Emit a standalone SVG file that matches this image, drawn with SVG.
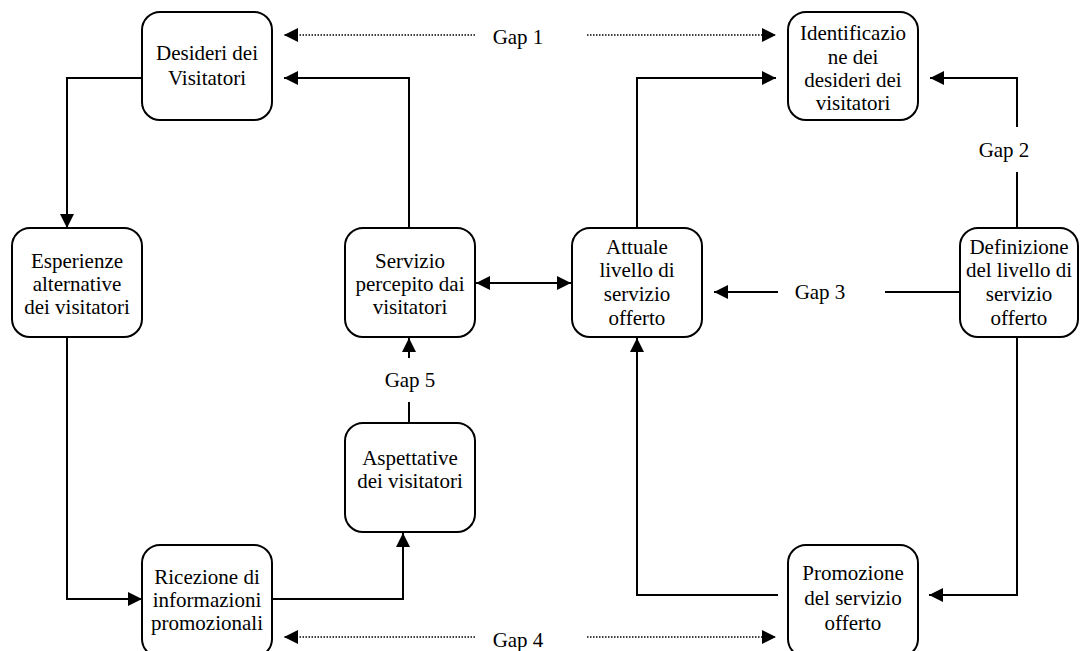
<svg xmlns="http://www.w3.org/2000/svg" width="1083" height="651" viewBox="0 0 1083 651">
  <style>
    .box { fill: #fff; stroke: #000; stroke-width: 2; }
    .lbl { font-family: "Liberation Serif", "Times New Roman", serif; font-size: 21px; fill: #000; text-anchor: middle; }
    .ln { fill: none; stroke: #000; stroke-width: 2; }
    .dot { fill: none; stroke: #000; stroke-width: 1.5; stroke-dasharray: 1.5 1.5; }
  </style>
  <defs>
    <marker id="ah" viewBox="0 0 10 10" refX="10" refY="5" markerWidth="16" markerHeight="14" markerUnits="userSpaceOnUse" orient="auto-start-reverse">
      <path d="M0,0 L10,5 L0,10 Z" fill="#000"/>
    </marker>
  </defs>
  <rect width="1083" height="651" fill="#fff"/>

  <!-- connectors -->
  <g id="connectors">
    <!-- Gap 1 -->
    <line class="dot" x1="475" y1="35" x2="284" y2="35" marker-end="url(#ah)"/>
    <line class="dot" x1="587" y1="35" x2="776" y2="35" marker-end="url(#ah)"/>
    <!-- Servizio percepito -> Desideri -->
    <polyline class="ln" points="409,228 409,78 284,78" marker-end="url(#ah)"/>
    <!-- Attuale -> Identificazione -->
    <polyline class="ln" points="637,228 637,78 776,78" marker-end="url(#ah)"/>
    <!-- Gap 2 -->
    <polyline class="ln" points="1017,127 1017,78 930,78" marker-end="url(#ah)"/>
    <line class="ln" x1="1017" y1="172" x2="1017" y2="228"/>
    <!-- Desideri -> Esperienze -->
    <polyline class="ln" points="142,78 67,78 67,228" marker-end="url(#ah)"/>
    <!-- Esperienze -> Ricezione -->
    <polyline class="ln" points="67,337 67,599 142,599" marker-end="url(#ah)"/>
    <!-- Servizio <-> Attuale -->
    <line class="ln" x1="476" y1="283" x2="571" y2="283" marker-start="url(#ah)" marker-end="url(#ah)"/>
    <!-- Gap 3 -->
    <line class="ln" x1="778" y1="292" x2="714" y2="292" marker-end="url(#ah)"/>
    <line class="ln" x1="885" y1="292" x2="960" y2="292"/>
    <!-- Gap 5 -->
    <line class="ln" x1="409" y1="358" x2="409" y2="338" marker-end="url(#ah)"/>
    <line class="ln" x1="409" y1="402" x2="409" y2="423"/>
    <!-- Ricezione -> Aspettative -->
    <polyline class="ln" points="272,599 403,599 403,533" marker-end="url(#ah)"/>
    <!-- Promozione -> Attuale -->
    <polyline class="ln" points="778,595 637,595 637,338" marker-end="url(#ah)"/>
    <!-- Definizione -> Promozione -->
    <polyline class="ln" points="1017,337 1017,595 929,595" marker-end="url(#ah)"/>
    <!-- Gap 4 -->
    <line class="dot" x1="475" y1="637" x2="284" y2="637" marker-end="url(#ah)"/>
    <line class="dot" x1="587" y1="637" x2="776" y2="637" marker-end="url(#ah)"/>
  </g>

  <!-- gap labels -->
  <g id="gap-labels">
    <text class="lbl" x="518" y="44">Gap 1</text>
    <text class="lbl" x="1004" y="157">Gap 2</text>
    <text class="lbl" x="820" y="299">Gap 3</text>
    <text class="lbl" x="410" y="387">Gap 5</text>
    <text class="lbl" x="518" y="647">Gap 4</text>
  </g>

  <g id="desideri">
    <rect class="box" x="142" y="12" width="130" height="108" rx="18"/>
    <text class="lbl" x="207" y="60">Desideri dei</text>
    <text class="lbl" x="207" y="85">Visitatori</text>
  </g>

  <g id="identificazione">
    <rect class="box" x="788" y="12" width="130" height="108" rx="18"/>
    <text class="lbl" x="853" y="40">Identificazio</text>
    <text class="lbl" x="853" y="64">ne dei</text>
    <text class="lbl" x="853" y="87">desideri dei</text>
    <text class="lbl" x="853" y="110">visitatori</text>
  </g>

  <g id="esperienze">
    <rect class="box" x="12" y="228" width="130" height="109" rx="18"/>
    <text class="lbl" x="77" y="268">Esperienze</text>
    <text class="lbl" x="77" y="291">alternative</text>
    <text class="lbl" x="77" y="314">dei visitatori</text>
  </g>

  <g id="servizio-percepito">
    <rect class="box" x="345" y="228" width="130" height="109" rx="18"/>
    <text class="lbl" x="410" y="268">Servizio</text>
    <text class="lbl" x="410" y="291">percepito dai</text>
    <text class="lbl" x="410" y="314">visitatori</text>
  </g>

  <g id="attuale-livello">
    <rect class="box" x="572" y="228" width="130" height="109" rx="18"/>
    <text class="lbl" x="637" y="254">Attuale</text>
    <text class="lbl" x="637" y="277">livello di</text>
    <text class="lbl" x="637" y="301">servizio</text>
    <text class="lbl" x="637" y="325">offerto</text>
  </g>

  <g id="definizione">
    <rect class="box" x="960" y="228" width="118" height="109" rx="18"/>
    <text class="lbl" x="1019" y="254">Definizione</text>
    <text class="lbl" x="1019" y="277">del livello di</text>
    <text class="lbl" x="1019" y="301">servizio</text>
    <text class="lbl" x="1019" y="325">offerto</text>
  </g>

  <g id="aspettative">
    <rect class="box" x="345" y="423" width="130" height="109" rx="18"/>
    <text class="lbl" x="410" y="465">Aspettative</text>
    <text class="lbl" x="410" y="488">dei visitatori</text>
  </g>

  <g id="ricezione">
    <rect class="box" x="142" y="545" width="130" height="112" rx="18"/>
    <text class="lbl" x="207" y="584">Ricezione di</text>
    <text class="lbl" x="207" y="607">informazioni</text>
    <text class="lbl" x="207" y="630">promozionali</text>
  </g>

  <g id="promozione">
    <rect class="box" x="788" y="545" width="130" height="112" rx="18"/>
    <text class="lbl" x="853" y="580">Promozione</text>
    <text class="lbl" x="853" y="605">del servizio</text>
    <text class="lbl" x="853" y="630">offerto</text>
  </g>
</svg>
